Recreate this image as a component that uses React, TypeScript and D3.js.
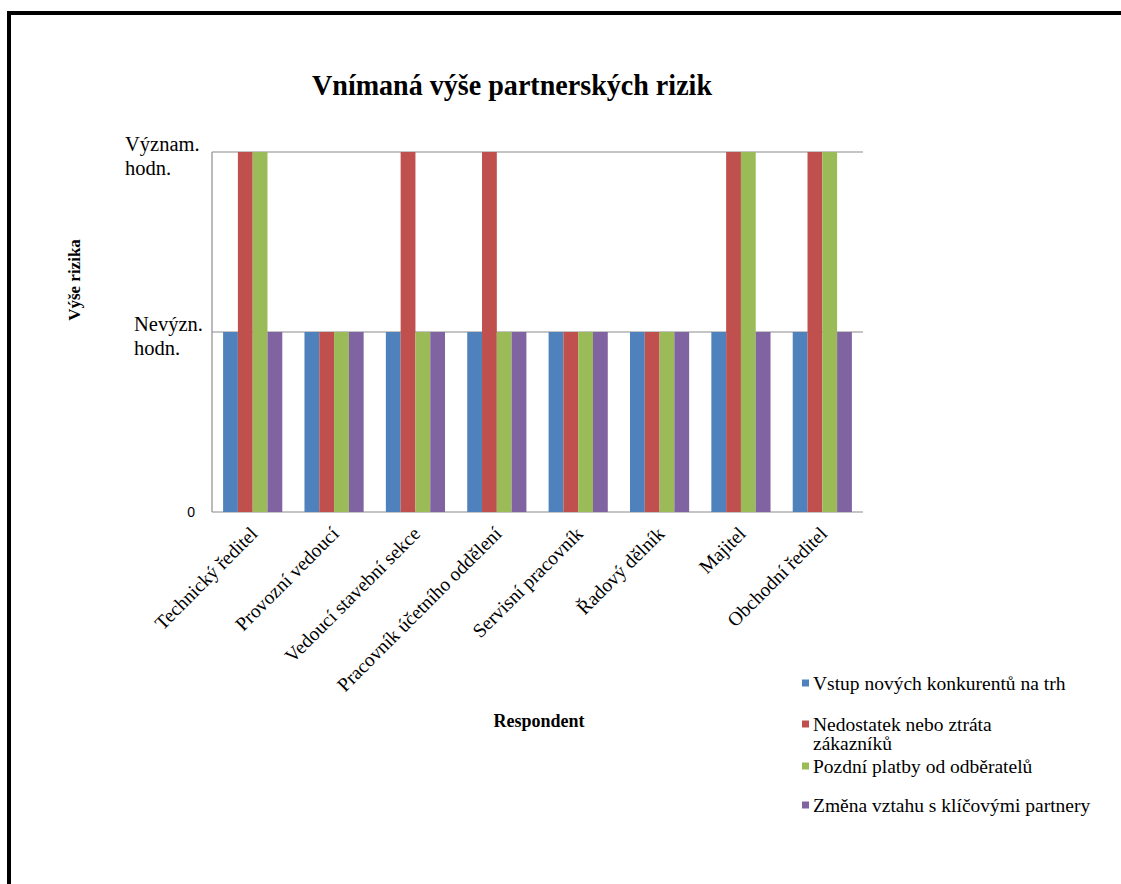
import React from 'react';
import * as d3 from 'd3';

const categories = [
  'Technický ředitel',
  'Provozní vedoucí',
  'Vedoucí stavební sekce',
  'Pracovník účetního oddělení',
  'Servisní pracovník',
  'Řadový dělník',
  'Majitel',
  'Obchodní ředitel',
];

const seriesNames = [
  'Vstup nových konkurentů na trh',
  'Nedostatek nebo ztráta zákazníků',
  'Pozdní platby od odběratelů',
  'Změna vztahu s klíčovými partnery',
];

// 1 = Nevýzn. hodn., 2 = Význam. hodn.
const vstup = [1, 1, 1, 1, 1, 1, 1, 1];
const nedostatek = [2, 1, 2, 2, 1, 1, 2, 2];
const pozdni = [2, 1, 1, 1, 1, 1, 2, 2];
const zmena = [1, 1, 1, 1, 1, 1, 1, 1];

const seriesValues = [vstup, nedostatek, pozdni, zmena];
const colors = ['#4F81BD', '#C0504D', '#9BBB59', '#8064A2'];

const yTicks = [0, 1, 2];
const yTickLabels = [['0'], ['Nevýzn.', 'hodn.'], ['Význam.', 'hodn.']];

// legend lines (second item wraps)
const legendLines = [
  ['Vstup nových konkurentů na trh'],
  ['Nedostatek nebo ztráta', 'zákazníků'],
  ['Pozdní platby od odběratelů'],
  ['Změna vztahu s klíčovými partnery'],
];

const serif = '"Liberation Serif", "Times New Roman", serif';

const App = () => {
  const width = 1121;
  const height = 884;
  const plot = { left: 212, right: 863, top: 152, bottom: 512 };

  const x0 = d3.scaleBand().domain(categories).range([plot.left, plot.right]).padding(0);
  // Excel-like gap width 150%: 4 bars + 1.5 bar gap per category
  const barW = x0.bandwidth() / 5.5;
  const x1 = d3.scaleBand().domain(d3.range(4).map(String)).range([0, barW * 4]);

  const y = d3.scaleLinear().domain([0, 2]).range([plot.bottom, plot.top]);

  const legendY = [683, 724, 766, 805];
  // left edge of the two-line tick label blocks (block is right-aligned by its longest line)
  const tickBlockLeft = [0, 134, 125];

  return (
    <svg width={width} height={height} style={{ position: 'absolute', left: 0, top: 0, background: '#fff' }}>
      <rect x={0} y={0} width={width} height={height} fill="#fff" />
      {/* outer frame */}
      <rect x={9} y={13} width={1200} height={1000} fill="none" stroke="#000" strokeWidth={4} />

      {/* title */}
      <text x={512} y={95} textAnchor="middle" fontFamily={serif} fontWeight="bold" fontSize={29}
        textLength={400} lengthAdjust="spacingAndGlyphs">
        Vnímaná výše partnerských rizik
      </text>

      {/* gridlines */}
      {yTicks.map(t => (
        <line key={t} x1={plot.left} x2={plot.right} y1={y(t)} y2={y(t)} stroke="#8c8c8c" strokeWidth={1.2} />
      ))}
      <line x1={plot.left} x2={plot.left} y1={plot.top} y2={plot.bottom} stroke="#8c8c8c" strokeWidth={1.2} />

      {/* bars */}
      {categories.map((c, ci) => (
        <g key={c} transform={`translate(${x0(c)! + barW * 0.75},0)`}>
          {seriesValues.map((vals, si) => (
            <rect key={si} x={x1(String(si))} y={y(vals[ci])} width={x1.bandwidth()}
              height={y(0) - y(vals[ci])} fill={colors[si]} />
          ))}
        </g>
      ))}

      {/* y tick labels */}
      {yTicks.map((t, i) =>
        i === 0 ? (
          <text key={t} x={195} y={y(t)} dy="0.35em" textAnchor="end" fontFamily='"Liberation Sans", Arial, sans-serif'
            fontSize={14}>{yTickLabels[i][0]}</text>
        ) : (
          <text key={t} x={tickBlockLeft[i]} y={y(t) - 1} fontFamily={serif} fontSize={20.5}>
            {yTickLabels[i].map((l, li) => (
              <tspan key={li} x={tickBlockLeft[i]} dy={li === 0 ? 0 : 24}>{l}</tspan>
            ))}
          </text>
        )
      )}

      {/* y axis title */}
      <text transform="translate(80,280) rotate(-90)" textAnchor="middle" fontFamily={serif} fontWeight="bold"
        fontSize={17}>Výše rizika</text>

      {/* x tick labels */}
      {categories.map(c => (
        <text key={c} transform={`translate(${x0(c)! + x0.bandwidth() / 2 + 6},535) rotate(-45)`} textAnchor="end"
          fontFamily={serif} fontSize={19.5}>{c}</text>
      ))}

      {/* x axis title */}
      <text x={539} y={727} textAnchor="middle" fontFamily={serif} fontWeight="bold" fontSize={18}>Respondent</text>

      {/* legend */}
      {seriesNames.map((s, i) => (
        <g key={s}>
          <rect x={802} y={legendY[i] - 3.5} width={7} height={7} fill={colors[i]} />
          <text x={813} y={legendY[i] + 7} fontFamily={serif} fontSize={19.5}>
            {legendLines[i].map((l, li) => (
              <tspan key={li} x={813} dy={li === 0 ? 0 : 19}>{l}</tspan>
            ))}
          </text>
        </g>
      ))}
    </svg>
  );
};

export default App;
